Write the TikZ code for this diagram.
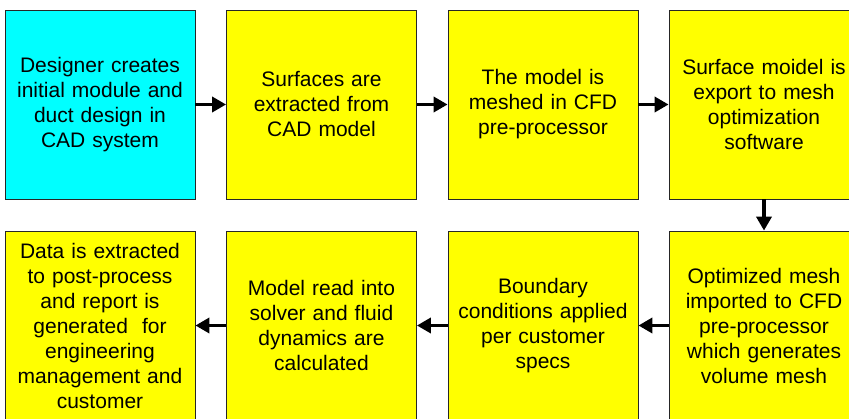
\documentclass[tikz,border=0pt]{standalone}
\usepackage{fontspec}
\setmainfont{Liberation Sans}
\usetikzlibrary{arrows.meta}
\definecolor{boxcyan}{RGB}{0,255,255}
\definecolor{boxyellow}{RGB}{255,255,0}
\tikzset{
  stepbox/.style={draw=black!85, line width=0.8pt, minimum width=190pt, minimum height=189pt,
    text width=186pt, align=center, inner sep=0pt, font=\fontsize{21}{25}\selectfont},
  ybox/.style={stepbox, fill=boxyellow},
  cbox/.style={stepbox, fill=boxcyan},
  arr/.style={line width=3.5pt, -{Triangle[length=14pt,width=15pt]}}
}
\begin{document}
\begin{tikzpicture}[x=1pt,y=-1pt]
\useasboundingbox (0,0) rectangle (849,418);
\node[cbox] (b1) at (100,104.5) {Designer creates\\initial module and\\duct design in\\CAD system};
\node[ybox] (b2) at (321.5,104.5) {Surfaces are\\extracted from\\CAD model};
\node[ybox] (b3) at (543,104.5) {The model is\\meshed in CFD\\pre-processor};
\node[ybox] (b4) at (764,104.5) {Surface moidel is\\export to mesh\\optimization\\software};
\node[ybox] (b5) at (764,325.5) {Optimized mesh\\imported to CFD\\pre-processor\\which generates\\volume mesh};
\node[ybox] (b6) at (543,325.5) {Boundary\\conditions applied\\per customer\\specs};
\node[ybox] (b7) at (321.5,325.5) {Model read into\\solver and fluid\\dynamics are\\calculated};
\node[ybox] (b8) at (100,325.5) {Data is extracted\\to post-process\\and report is\\generated\ \ for\\engineering\\management and\\customer};
\draw[arr] (b1) -- (b2);
\draw[arr] (b2) -- (b3);
\draw[arr] (b3) -- (b4);
\draw[arr] (b4) -- (b5);
\draw[arr] (b5) -- (b6);
\draw[arr] (b6) -- (b7);
\draw[arr] (b7) -- (b8);
\end{tikzpicture}
\end{document}
